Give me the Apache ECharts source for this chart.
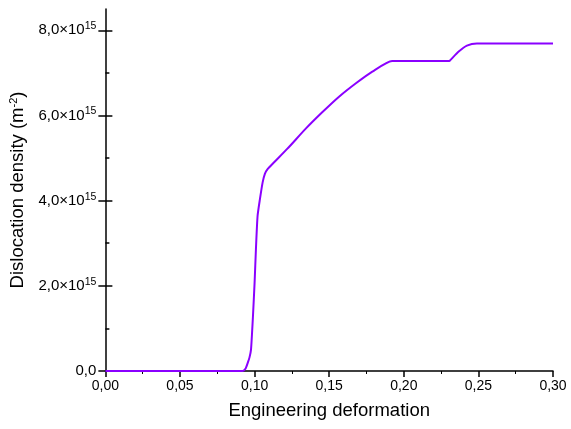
<!DOCTYPE html>
<html>
<head>
<meta charset="utf-8">
<script src="https://cdn.jsdelivr.net/npm/echarts@6/dist/echarts.min.js"></script>
<style>
  html, body { margin: 0; padding: 0; background: #fff; }
  #chart { width: 571px; height: 429px; }
</style>
</head>
<body>
<div id="chart"></div>
<script>
// Engineering deformation (strain)
const strain = [0, 0.090, 0.092, 0.0940, 0.0953, 0.0966, 0.0976, 0.0989, 0.1000, 0.1009, 0.1020, 0.1036,
  0.1054, 0.1069, 0.1087, 0.1131, 0.1220, 0.1343, 0.1455, 0.1566, 0.1677, 0.1789,
  0.1922, 0.2305, 0.2312, 0.2368, 0.2423, 0.2490, 0.2550, 0.30];
// Dislocation density, in units of 10^15 m^-2
const density = [0, 0, 0, 0.06, 0.18, 0.32, 0.50, 1.28, 2.07, 2.86, 3.64, 4.04,
  4.43, 4.63, 4.74, 4.90, 5.22, 5.69, 6.08, 6.44, 6.75, 7.03,
  7.28, 7.28, 7.30, 7.50, 7.64, 7.69, 7.69, 7.69];
// Tick positions (10^15 m^-2)
const yMajorTicks = [0, 2, 4, 6, 8];
const yMinorTicks = [1, 3, 5, 7];

const FONT = '"Liberation Sans", Arial, sans-serif';

const chart = echarts.init(document.getElementById('chart'), null, { renderer: 'canvas' });

function yLabel(v) {
  if (v === 0) return '{m|0,0}';
  return '{m|' + v.toFixed(1).replace('.', ',') + '×10}{s|15}';
}

const yBase = {
  type: 'value', min: 0, max: 8.5, interval: 1,
  position: 'left', splitLine: { show: false }
};

const option = {
  backgroundColor: '#ffffff',
  animation: false,
  grid: { left: 104, right: 18, top: 9, bottom: 58, containLabel: false },
  xAxis: {
    type: 'value', min: 0, max: 0.30, interval: 0.05,
    name: 'Engineering deformation',
    nameLocation: 'middle', nameGap: 30,
    nameTextStyle: { fontFamily: FONT, fontSize: 18.5, color: '#000' },
    axisLine: { lineStyle: { color: '#000', width: 1.5 } },
    axisTick: { show: true, inside: false, length: 6, lineStyle: { color: '#000', width: 1.5 } },
    minorTick: { show: true, splitNumber: 2, length: 3, lineStyle: { color: '#000', width: 1 } },
    axisLabel: {
      fontFamily: FONT, fontSize: 14, color: '#000', margin: 8,
      formatter: v => v.toFixed(2).replace('.', ',')
    },
    splitLine: { show: false }
  },
  yAxis: [
    Object.assign({}, yBase, {
      name: '{n|Dislocation density (m}{s|-2}{n|)}',
      nameLocation: 'middle', nameGap: 73,
      nameTextStyle: {
        fontFamily: FONT, fontSize: 18.5, color: '#000',
        rich: {
          n: { fontFamily: FONT, fontSize: 18.5, color: '#000' },
          s: { fontFamily: FONT, fontSize: 11, color: '#000', verticalAlign: 'top', padding: [0, 0, 9, 0] }
        }
      },
      axisLine: { show: true, lineStyle: { color: '#000', width: 1.5 } },
      axisTick: { show: true, inside: false, length: 7, customValues: yMajorTicks,
        lineStyle: { color: '#000', width: 1.5 } },
      axisLabel: {
        customValues: yMajorTicks, margin: 9,
        fontFamily: FONT, fontSize: 15, color: '#000',
        formatter: yLabel,
        rich: {
          m: { fontFamily: FONT, fontSize: 15, color: '#000' },
          s: { fontFamily: FONT, fontSize: 10.5, color: '#000', verticalAlign: 'top', padding: [0, 0, 8, 0] }
        }
      }
    }),
    Object.assign({}, yBase, {
      axisLine: { show: false },
      axisTick: { show: true, inside: true, length: 7, customValues: yMajorTicks,
        lineStyle: { color: '#000', width: 1.5 } },
      axisLabel: { show: false }
    }),
    Object.assign({}, yBase, {
      axisLine: { show: false },
      axisTick: { show: true, inside: true, length: 4, customValues: yMinorTicks,
        lineStyle: { color: '#000', width: 1.5 } },
      axisLabel: { show: false }
    })
  ],
  series: [{
    type: 'line',
    data: strain.map((x, i) => [x, density[i]]),
    showSymbol: false,
    smooth: 0.2,
    lineStyle: { color: '#8a00ff', width: 2 },
    itemStyle: { color: '#8a00ff' },
    clip: true
  }]
};

chart.setOption(option);
</script>
</body>
</html>
